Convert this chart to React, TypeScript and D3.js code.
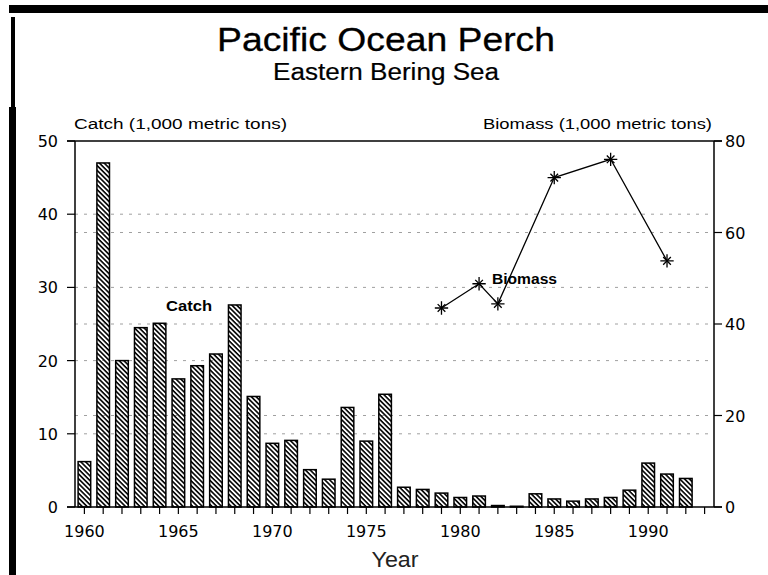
import React from "react";
import * as d3 from "d3";

const years = [1960, 1961, 1962, 1963, 1964, 1965, 1966, 1967, 1968, 1969, 1970, 1971, 1972, 1973, 1974, 1975, 1976, 1977, 1978, 1979, 1980, 1981, 1982, 1983, 1984, 1985, 1986, 1987, 1988, 1989, 1990, 1991, 1992, 1993];
const catchValues = [6.2, 47.0, 20.0, 24.5, 25.1, 17.5, 19.3, 20.9, 27.6, 15.1, 8.7, 9.1, 5.1, 3.8, 13.6, 9.0, 15.4, 2.7, 2.4, 1.9, 1.3, 1.5, 0.2, 0.1, 1.8, 1.1, 0.8, 1.1, 1.3, 2.3, 6.0, 4.5, 3.9, 0];
const biomassYears = [1979, 1981, 1982, 1985, 1988, 1991];
const biomassValues = [43.5, 48.8, 44.4, 72.0, 76.0, 53.8];
const leftTicks = [0, 10, 20, 30, 40, 50];
const rightTicks = [0, 20, 40, 60, 80];
const yearLabels = [1960, 1965, 1970, 1975, 1980, 1985, 1990];

const W = 768, H = 575;
const L = 75, R = 714, T = 141, B = 507;

export default function App() {
  const x = d3.scaleBand<number>().domain(years).range([L, R]).paddingInner(0.33).paddingOuter(0.165);
  const yL = d3.scaleLinear().domain([0, 50]).range([B, T]);
  const yR = d3.scaleLinear().domain([0, 80]).range([B, T]);
  const cx = (yr: number) => (x(yr) as number) + x.bandwidth() / 2;
  const line = d3.line<number>().x((_, i) => cx(biomassYears[i])).y((d) => yR(d));
  const plus = d3.symbol().type(d3.symbolPlus).size(60)();
  const times = d3.symbol().type(d3.symbolTimes).size(40)();
  const tickFont = "'DejaVu Sans', sans-serif";
  const titleFont = "'Liberation Sans', Arial, sans-serif";

  return (
    <svg width={W} height={H} style={{ position: "absolute", left: 0, top: 0, background: "#fff" }}>
      <defs>
        <pattern id="hatch" patternUnits="userSpaceOnUse" width="8" height="3.4" patternTransform="rotate(45)">
          <rect x="0" y="0" width="8" height="1.6" fill="#000" />
        </pattern>
      </defs>
      <rect x={0} y={0} width={W} height={H} fill="#fff" />
      {/* border bars */}
      <rect x={9} y={5} width={W - 9} height={8} fill="#000" />
      <rect x={11} y={17} width={4} height={91} fill="#000" />
      <rect x={9} y={107} width={7} height={H - 107} fill="#000" />

      {/* titles */}
      <text x={386} y={51} textAnchor="middle" fontFamily={titleFont} fontSize={34} textLength={338} lengthAdjust="spacingAndGlyphs" fill="#000" stroke="#000" strokeWidth={0.3}>Pacific Ocean Perch</text>
      <text x={386} y={80} textAnchor="middle" fontFamily={titleFont} fontSize={23} textLength={226} lengthAdjust="spacingAndGlyphs" fill="#000" stroke="#000" strokeWidth={0.2}>Eastern Bering Sea</text>

      <text x={74} y={129} fontFamily={titleFont} fontSize={14} textLength={213} lengthAdjust="spacingAndGlyphs" fill="#000">Catch (1,000 metric tons)</text>
      <text x={712} y={129} textAnchor="end" fontFamily={titleFont} fontSize={14} textLength={229} lengthAdjust="spacingAndGlyphs" fill="#000">Biomass (1,000 metric tons)</text>

      {/* gridlines */}
      {leftTicks.filter((t) => t > 0 && t < 50).map((t) => (
        <line key={"gl" + t} x1={L} x2={R} y1={yL(t)} y2={yL(t)} stroke="#888" strokeWidth={0.8} strokeDasharray="3,6" />
      ))}
      {rightTicks.filter((t) => t > 0 && t < 80).map((t) => (
        <line key={"gr" + t} x1={L} x2={R} y1={yR(t)} y2={yR(t)} stroke="#888" strokeWidth={0.8} strokeDasharray="3,6" />
      ))}

      {/* bars */}
      {years.map((yr, i) =>
        catchValues[i] > 0 ? (
          <rect key={"b" + yr} x={x(yr)} y={yL(catchValues[i])} width={x.bandwidth()} height={B - yL(catchValues[i])} fill="url(#hatch)" stroke="#000" strokeWidth={1.5} />
        ) : null
      )}

      {/* frame */}
      <line x1={L - 8} x2={R + 8} y1={T} y2={T} stroke="#000" strokeWidth={1.3} />
      <line x1={L} x2={L} y1={T} y2={B} stroke="#000" strokeWidth={1.5} />
      <line x1={R} x2={R} y1={T} y2={B} stroke="#000" strokeWidth={1.5} />
      <line x1={L - 8} x2={R + 8} y1={B} y2={B} stroke="#000" strokeWidth={1.6} />

      {/* left axis */}
      {leftTicks.map((t) => (
        <g key={"lt" + t}>
          <line x1={L - 8} x2={L} y1={yL(t)} y2={yL(t)} stroke="#000" strokeWidth={1.2} />
          <text x={L - 17} y={yL(t) + 6} textAnchor="end" fontFamily={tickFont} fontSize={16} fill="#000">{t}</text>
        </g>
      ))}
      {/* right axis */}
      {rightTicks.map((t) => (
        <g key={"rt" + t}>
          <line x1={R} x2={R + 8} y1={yR(t)} y2={yR(t)} stroke="#000" strokeWidth={1.2} />
          <text x={R + 11} y={yR(t) + 6} textAnchor="start" fontFamily={tickFont} fontSize={16} fill="#000">{t}</text>
        </g>
      ))}
      {/* x axis */}
      {years.map((yr) => (
        <line key={"xt" + yr} x1={cx(yr)} x2={cx(yr)} y1={B} y2={B + 7} stroke="#000" strokeWidth={1.2} />
      ))}
      {yearLabels.map((yr) => (
        <text key={"xl" + yr} x={cx(yr)} y={537} textAnchor="middle" fontFamily={tickFont} fontSize={16} fill="#000">{yr}</text>
      ))}
      <text x={395} y={567} textAnchor="middle" fontFamily={titleFont} fontSize={22} textLength={47} lengthAdjust="spacingAndGlyphs" fill="#222">Year</text>

      {/* biomass */}
      <path d={line(biomassValues) || ""} fill="none" stroke="#000" strokeWidth={1.3} />
      {biomassValues.map((v, i) => (
        <g key={"s" + i} transform={`translate(${cx(biomassYears[i])},${yR(v)})`}>
          <path d={plus || ""} fill="none" stroke="#000" strokeWidth={1.3} />
          <path d={times || ""} fill="none" stroke="#000" strokeWidth={1.3} />
        </g>
      ))}

      <text x={166} y={311} fontFamily={titleFont} fontWeight="bold" fontSize={15} textLength={46} lengthAdjust="spacingAndGlyphs" fill="#000">Catch</text>
      <text x={492} y={284} fontFamily={titleFont} fontWeight="bold" fontSize={14} textLength={65} lengthAdjust="spacingAndGlyphs" fill="#000">Biomass</text>
    </svg>
  );
}
